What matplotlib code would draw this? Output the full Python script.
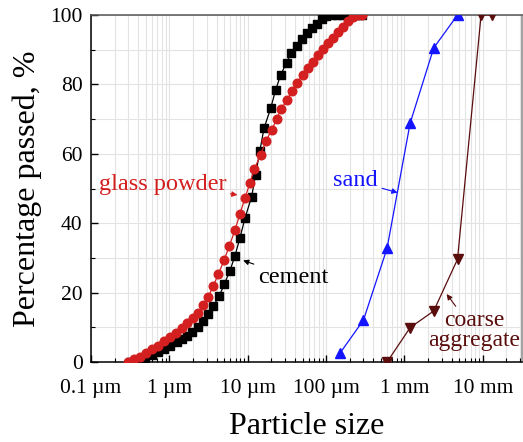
import matplotlib
matplotlib.use("Agg")
import matplotlib.pyplot as plt
from matplotlib.ticker import FixedLocator, NullFormatter, LogLocator

# particle size in micrometres, percentage passed
cement_size = [0.314, 0.383, 0.489, 0.594, 0.721, 0.853, 1.02, 1.24, 1.44, 1.66,
               1.96, 2.30, 2.71, 3.13, 3.63, 4.33, 5.01, 5.93, 6.87, 7.96,
               9.21, 11.2, 12.6, 14.3, 16.1, 19.6, 22.7, 26.3, 31.3, 35.6,
               42.1, 48.7, 56.4, 65.3, 75.7, 87.7, 101, 119, 137, 159,
               184, 213, 247, 286]
cement_pass = [0.1, 0.6, 1.2, 2.0, 2.8, 3.7, 4.7, 5.7, 6.5, 7.5,
               8.7, 10.2, 11.8, 13.7, 16.1, 19.0, 22.4, 26.3, 30.6, 35.8,
               41.4, 47.6, 53.9, 60.9, 67.3, 73.1, 78.4, 82.7, 86.3, 89.0,
               91.1, 93.0, 94.7, 96.2, 97.4, 98.8, 99.7, 100, 100, 100,
               100, 100, 100, 100]

glass_size = [0.299, 0.353, 0.422, 0.503, 0.605, 0.721, 0.853, 1.02, 1.21, 1.44,
              1.66, 1.98, 2.30, 2.71, 3.13, 3.63, 4.21, 5.01, 5.81, 6.87,
              7.96, 9.21, 10.7, 12.1, 14.6, 17.1, 20.2, 23.4, 26.3, 31.9,
              36.6, 42.8, 50.1, 59.1, 68.4, 79.3, 91.8, 106, 123, 143,
              165, 191, 222, 257, 286]
glass_pass = [0.1, 0.8, 1.5, 2.5, 3.7, 4.7, 6.1, 7.3, 8.4, 9.7,
              11.2, 12.6, 14.2, 16.4, 18.8, 21.9, 25.3, 29.4, 33.4, 38.0,
              42.7, 47.2, 51.7, 55.5, 59.7, 63.7, 66.9, 69.9, 72.8, 75.5,
              78.2, 80.5, 82.7, 84.6, 86.5, 88.5, 90.1, 91.8, 93.5, 95.0,
              96.6, 98.4, 99.4, 99.9, 100]

sand_size = [150, 300, 600, 1180, 2360, 4750]
sand_pass = [2.5, 12.1, 32.8, 68.8, 90.5, 100]

coarse_size = [600, 1180, 2360, 4750, 9500, 13200]
coarse_pass = [0, 9.9, 14.7, 29.6, 100, 100]

tick_pos = [0.1, 1, 10, 100, 1000, 10000]
tick_lab = ["0.1 \u00b5m", "1 \u00b5m", "10 \u00b5m", "100 \u00b5m", "1 mm", "10 mm"]

RED = "#d31f1f"
BLUE = "#1414ff"
BROWN = "#5a0d0d"

plt.rcParams["font.family"] = ["Liberation Serif", "DejaVu Serif"]

fig = plt.figure(figsize=(5.23, 4.42), dpi=100)
ax = fig.add_axes([91 / 523, 80 / 442, 431 / 523, 347 / 442])

ax.plot(cement_size, cement_pass, color="black", marker="s", ms=5.4, lw=0.9, zorder=3)
ax.plot(glass_size, glass_pass, color=RED, marker="o", ms=6.2, lw=0.9, zorder=4)
ax.plot(sand_size, sand_pass, color=BLUE, marker="^", ms=7, lw=0.9, zorder=3)
ax.plot(coarse_size, coarse_pass, color=BROWN, marker="v", ms=7, lw=0.9, zorder=3)

ax.set_xscale("log")
ax.set_xlim(0.1, 31600)
ax.set_ylim(0, 100)
ax.xaxis.set_major_locator(FixedLocator(tick_pos))
ax.set_xticklabels(tick_lab)
ax.xaxis.set_minor_locator(LogLocator(base=10, subs=range(2, 10), numticks=20))
ax.xaxis.set_minor_formatter(NullFormatter())
ax.set_yticks([0, 20, 40, 60, 80, 100])
ax.set_yticks(range(10, 100, 20), minor=True)

ax.grid(True, which="both", color="#e3e3e3", lw=0.8, zorder=0)
ax.set_axisbelow(True)
ax.tick_params(axis="both", which="major", direction="in", length=5, width=1,
               labelsize=15.5)
ax.tick_params(axis="x", which="major", pad=12)
ax.tick_params(axis="y", which="major", pad=6)
ax.tick_params(axis="both", which="minor", direction="in", length=3, width=0.8)
for s in ax.spines.values():
    s.set_linewidth(1.1)
ax.spines["top"].set_color("#555555")
ax.spines["right"].set_color("#888888")

ax.set_xlabel("Particle size", fontsize=23, labelpad=10)
ax.set_ylabel("Percentage passed, %", fontsize=23, labelpad=6)

arrow = dict(arrowstyle="-|>", lw=0.8, shrinkA=1, shrinkB=1, mutation_scale=8)
ax.annotate("glass powder", xy=(7.7, 48.1), xytext=(5.3, 51.2), ha="right", va="center",
            color=RED, fontsize=17.5, arrowprops=dict(arrow, color=RED))
ax.annotate("cement", xy=(8.4, 29.4), xytext=(13.5, 24.3), ha="left", va="center",
            color="black", fontsize=17.5, arrowprops=dict(arrow, color="black"))
ax.annotate("sand", xy=(849, 48.7), xytext=(458, 52.2), ha="right", va="center",
            color=BLUE, fontsize=17.5, arrowprops=dict(arrow, color=BLUE))
ax.annotate("coarse\naggregate", xy=(3370, 19.9), xytext=(7700, 9.0), ha="center",
            va="center", color=BROWN, fontsize=17, linespacing=0.95,
            arrowprops=dict(arrow, color=BROWN))

fig.savefig("out.png", dpi=100)
